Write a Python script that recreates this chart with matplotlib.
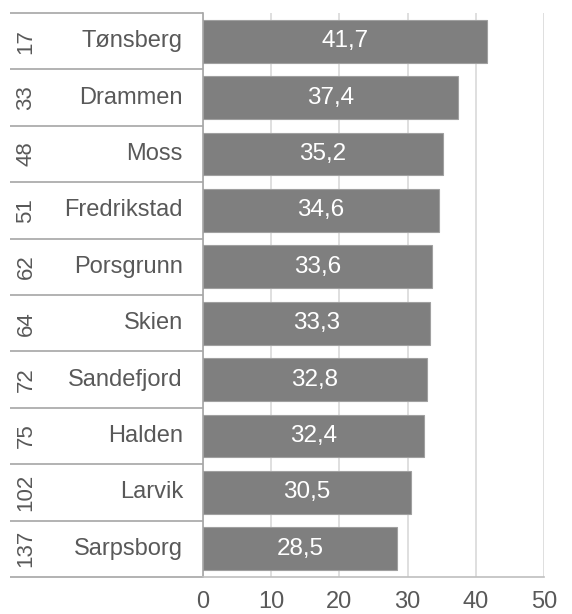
import matplotlib.pyplot as plt
import numpy as np

plt.rcParams['font.family'] = ['Liberation Sans', 'DejaVu Sans']

# Data
towns = ['Tønsberg', 'Drammen', 'Moss', 'Fredrikstad', 'Porsgrunn',
         'Skien', 'Sandefjord', 'Halden', 'Larvik', 'Sarpsborg']
ranks = ['17', '33', '48', '51', '62', '64', '72', '75', '102', '137']
values = [41.7, 37.4, 35.2, 34.6, 33.6, 33.3, 32.8, 32.4, 30.5, 28.5]
xticks = [0, 10, 20, 30, 40, 50]

W, H = 572, 614
fig = plt.figure(figsize=(W / 100, H / 100), dpi=100)
ax = fig.add_axes([203 / W, 1 - 577 / H, (544 - 203) / W, (577 - 13) / H])

y = np.arange(len(towns))
ax.barh(y, values, height=0.76, color='#7f7f7f', edgecolor='#a0a0a0',
        linewidth=0.8, zorder=3)

for yi, v in zip(y, values):
    ax.text(v / 2, yi, f'{v:.1f}'.replace('.', ','), ha='center', va='center',
            color='white', fontsize=17.5, zorder=4)

ax.set_xlim(0, 50)
ax.set_ylim(len(towns) - 0.5, -0.5)
ax.set_xticks(xticks)
ax.set_xticklabels([str(t) for t in xticks], fontsize=17, color='#595959')
ax.tick_params(axis='x', length=0, pad=10)
ax.set_yticks([])
ax.grid(True, axis='x', color='#d9d9d9', linewidth=1.2, zorder=0)

for s in ['top', 'right']:
    ax.spines[s].set_visible(False)
ax.spines['bottom'].set_color('#bfbfbf')
ax.spines['bottom'].set_linewidth(1.2)
ax.spines['left'].set_color('#a6a6a6')
ax.spines['left'].set_linewidth(1.2)

# multi-level category axis on the left
tr = ax.get_yaxis_transform()
x_sep = (10 - 203) / (544 - 203)
x_name = (183 - 203) / (544 - 203)
x_rank = (26 - 203) / (544 - 203)
for b in np.arange(len(towns) + 1) - 0.5:
    ax.plot([x_sep, 0], [b, b], transform=tr, color='#a6a6a6', linewidth=1.2,
            clip_on=False, solid_capstyle='butt')
for yi, name, r in zip(y, towns, ranks):
    ax.text(x_name, yi, name, transform=tr, ha='right', va='center',
            fontsize=17, color='#595959')
    ax.text(x_rank, yi, r, transform=tr, ha='center', va='center',
            rotation=90, fontsize=16, color='#595959')

fig.savefig('out.png', dpi=100)
